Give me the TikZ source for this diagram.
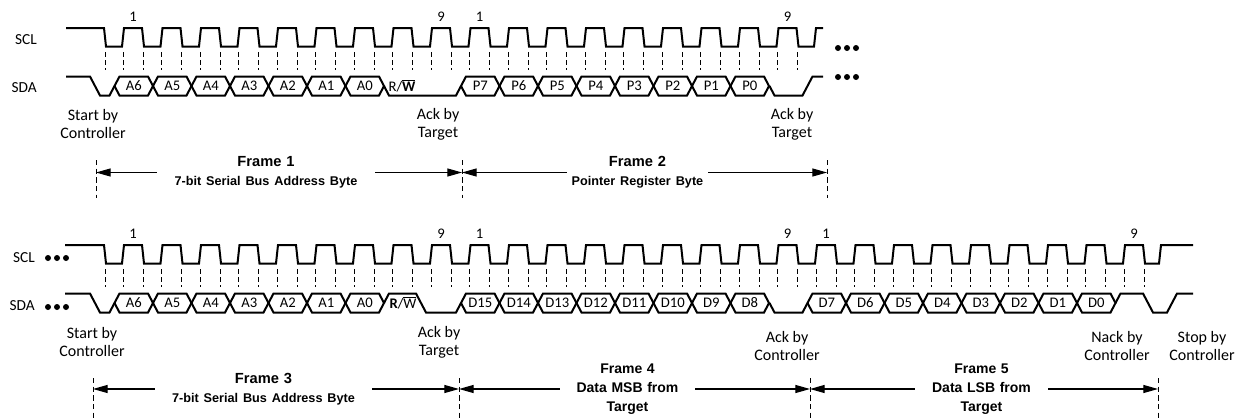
\documentclass[tikz,border=0pt]{standalone}
\usepackage{fontspec}
\setmainfont{Carlito}
\newfontfamily\framefont{Liberation Sans}
\usetikzlibrary{arrows.meta}

\tikzset{
  wave/.style={line width=1.5pt, line join=miter},
  guide/.style={line width=0.75pt, dash pattern=on 3.5pt off 2.5pt},
  siglbl/.style={anchor=east, inner sep=0pt, font=\fontsize{11.5}{13}\selectfont},
  bitlbl/.style={inner sep=0pt, font=\fontsize{11}{13}\selectfont},
  notelbl/.style={inner sep=0pt, align=center, font=\fontsize{12}{13.5}\selectfont},
  framelbl/.style={inner sep=0pt, align=center, font=\framefont\bfseries\fontsize{11}{14.25}\selectfont},
  framemark/.style={line width=0.75pt, dash pattern=on 4pt off 2.5pt},
  framearr/.style={line width=0.9pt, -{Triangle[length=11pt,width=6pt]}},
}

\begin{document}
\begin{tikzpicture}[x=0.75pt,y=-0.75pt]
\useasboundingbox (0,0) rectangle (1241,418);

%% ---------------- top: frames 1 and 2 ----------------
\node[siglbl] (scl1) at (37,40) {SCL};
\node[siglbl] (sda1) at (37,88) {SDA};

\draw[wave] (66,28) -- (104,28) -- (106,46.5)
    \foreach \k in {0,...,17}{ -- ({122+38.5*\k},46.5) -- ({124+38.5*\k},28)
                                -- ({142+38.5*\k},28) -- ({144+38.5*\k},46.5)}
    -- (814,46.5) -- (816,28) -- (823,28);      % clock line

\draw[guide] (105,52) -- (105,70);
\foreach \k in {0,...,17}{
    \draw[guide] ({123+38.5*\k},52) -- ++(0,18);
    \draw[guide] ({143+38.5*\k},52) -- ++(0,18);
}

\draw[wave] (66,76.5) -- (90,76.5) -- (100,95.5) -- (109.5,95.5) -- (114.5,86);  % start
\draw[wave] (384,86) -- (389,95.5) -- (456,95.5) -- (461,86);                      % R/W + ack
\draw[wave] (769.5,86) -- (774.5,95.5) -- (802.5,95.5) -- (812.5,76.5) -- (823,76.5); % ack

\foreach \lbl [count=\j from 0] in {A6,A5,A4,A3,A2,A1,A0,,,P7,P6,P5,P4,P3,P2,P1,P0}{
    \ifx\lbl\empty\else
    \pgfmathsetmacro{\bx}{114.5+38.5*\j}
    \draw[wave] (\bx,86) -- ++(5,-9.5) -- ++(28.5,0) -- ++(5,9.5)
        -- ++(-5,9.5) -- ++(-28.5,0) -- cycle;
    \node[bitlbl] (ta\j) at (\bx+19.25,86) {\lbl};
    \fi
}
\node[bitlbl] (rw1) at (402,86) {R/$\overline{\mbox{\bfseries W}}$};

\node[bitlbl] (n1a) at (133,17) {1};
\node[bitlbl] (n9a) at (441,17) {9};
\node[bitlbl] (n1b) at (479.5,17) {1};
\node[bitlbl] (n9b) at (787.5,17) {9};

\foreach \i in {0,1,2}{
    \fill ({838+9*\i},48) circle (3);
    \fill ({838+9*\i},77) circle (3);
}

\node[notelbl] (st1) at (93,124) {Start by\\Controller};
\node[notelbl] (ak1) at (438,124) {Ack by\\Target};
\node[notelbl] (ak2) at (792,124) {Ack by\\Target};

\coordinate (m1) at (96,172.5);
\coordinate (m2) at (462,172.5);
\coordinate (m3) at (827,172.5);
\foreach \m in {m1,m2,m3}{
    \draw[framemark] (\m) ++(0,-12.5) -- ++(0,38);
}
\node[framelbl, text width=163.5pt] (fr1) at (266,172.5)
    {Frame 1\\{\fontsize{9.5}{12}\selectfont 7-bit Serial Bus Address Byte}};
\node[framelbl, text width=105.75pt] (fr2) at (637.5,172.5)
    {Frame 2\\{\fontsize{9.5}{12}\selectfont Pointer Register Byte}};
\draw[framearr] (fr1.west) -- (m1);
\draw[framearr] (fr1.east) -- (m2);
\draw[framearr] (fr2.west) -- (m2);
\draw[framearr] (fr2.east) -- (m3);

%% ---------------- bottom: frames 3, 4 and 5 ----------------
\node[siglbl] (scl2) at (35,258) {SCL};
\node[siglbl] (sda2) at (35,306) {SDA};

\foreach \i in {0,1,2}{
    \fill ({48+9*\i},258) circle (3);
    \fill ({48+9*\i},307) circle (3);
}

\draw[wave] (65,245) -- (104,245) -- (106,263.5)
    \foreach \k in {0,...,26}{ -- ({122+38.5*\k},263.5) -- ({124+38.5*\k},245)
                                -- ({142+38.5*\k},245) -- ({144+38.5*\k},263.5)}
    -- (1159,263.5) -- (1161,245) -- (1193,245);  % clock line

\draw[guide] (105,269) -- (105,287);
\foreach \k in {0,...,26}{
    \draw[guide] ({123+38.5*\k},269) -- ++(0,18);
    \draw[guide] ({143+38.5*\k},269) -- ++(0,18);
}

\draw[wave] (65,293.5) -- (90,293.5) -- (100,312.5) -- (109.5,312.5) -- (114.5,303); % start
\draw[wave] (384,303) -- (389,293.5) -- (416,293.5) -- (426,312.5)
    -- (456,312.5) -- (461,303);                                                     % R/W + ack
\draw[wave] (769.5,303) -- (774.5,312.5) -- (802.5,312.5) -- (807.5,303);            % ack
\draw[wave] (1115.5,303) -- (1120.5,293.5) -- (1143,293.5) -- (1153,312.5)
    -- (1167,312.5) -- (1177,293.5) -- (1193,293.5);                                 % nack + stop

\foreach \lbl [count=\j from 0] in {A6,A5,A4,A3,A2,A1,A0,,,D15,D14,D13,D12,D11,D10,D9,D8,,D7,D6,D5,D4,D3,D2,D1,D0}{
    \ifx\lbl\empty\else
    \pgfmathsetmacro{\bx}{114.5+38.5*\j}
    \draw[wave] (\bx,303) -- ++(5,-9.5) -- ++(28.5,0) -- ++(5,9.5)
        -- ++(-5,9.5) -- ++(-28.5,0) -- cycle;
    \node[bitlbl] (ba\j) at (\bx+19.25,303) {\lbl};
    \fi
}
\node[bitlbl] (rw2) at (403,303) {{\bfseries R}/$\overline{\mbox{W}}$};

\node[bitlbl] (n1c) at (133,234) {1};
\node[bitlbl] (n9c) at (441,234) {9};
\node[bitlbl] (n1d) at (479.5,234) {1};
\node[bitlbl] (n9d) at (787.5,234) {9};
\node[bitlbl] (n1e) at (826,234) {1};
\node[bitlbl] (n9e) at (1134,234) {9};

\node[notelbl] (st2) at (92,342) {Start by\\Controller};
\node[notelbl] (ak3) at (439,342) {Ack by\\Target};
\node[notelbl] (ak4) at (787,346) {Ack by\\Controller};
\node[notelbl] (nk1) at (1117,346) {Nack by\\Controller};
\node[notelbl] (sp1) at (1202,346) {Stop by\\Controller};

\coordinate (m4) at (93,389);
\coordinate (m5) at (459,389);
\coordinate (m6) at (810,389);
\coordinate (m7) at (1158,389);
\foreach \m in {m4,m5,m6,m7}{
    \draw[framemark] (\m) ++(0,-11) -- ++(0,40);
}
\node[framelbl, text width=162.75pt] (fr3) at (263.5,389)
    {Frame 3\\{\fontsize{9.5}{12}\selectfont 7-bit Serial Bus Address Byte}};
\node[framelbl, text width=101.25pt, font=\framefont\bfseries\fontsize{10.5}{14.25}\selectfont]
    (fr4) at (627.5,389) {Frame 4\\Data MSB from\\Target};
\node[framelbl, text width=99.75pt, font=\framefont\bfseries\fontsize{10.5}{14.25}\selectfont]
    (fr5) at (981.5,389) {Frame 5\\Data LSB from\\Target};
\draw[framearr] (fr3.west) -- (m4);
\draw[framearr] (fr3.east) -- (m5);
\draw[framearr] (fr4.west) -- (m5);
\draw[framearr] (fr4.east) -- (m6);
\draw[framearr] (fr5.west) -- (m6);
\draw[framearr] (fr5.east) -- (m7);

\end{tikzpicture}
\end{document}
